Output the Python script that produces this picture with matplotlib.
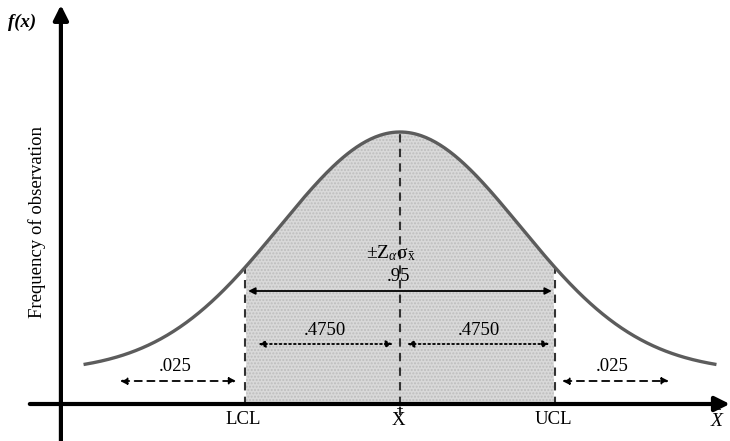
import numpy as np
import matplotlib.pyplot as plt

plt.rcParams['font.family'] = ['Liberation Serif', 'DejaVu Serif']
plt.rcParams['mathtext.fontset'] = 'custom'
plt.rcParams['mathtext.rm'] = 'Liberation Serif'
plt.rcParams['mathtext.it'] = 'Liberation Serif:italic'

# curve shape (x in units where the control limits sit at -z and +z)
z_crit = 1.96
mean = 0.0
spread = 1.52       # width of the bell
base_level = 0.33   # height of the tails above the axis
peak_height = 2.40  # height of the bell above the tails
x_start, x_end = -3.98, 3.98

# labels
limit_labels = ['LCL', r'$\bar{\mathrm{X}}$', 'UCL']
limit_pos = [-z_crit, mean, z_crit]
tail_prob = '.025'
half_prob = '.4750'
total_prob = '.95'

x = np.linspace(x_start, x_end, 400)
y = base_level + peak_height * np.exp(-(x - mean) ** 2 / (2 * spread ** 2))

def f(v):
    return base_level + peak_height * np.exp(-(v - mean) ** 2 / (2 * spread ** 2))

fig = plt.figure(figsize=(7.3, 4.41), dpi=100)
ax = fig.add_axes([0, 0, 1, 1])
ax.set_xlim(-5.057, 4.172)
ax.set_ylim(-0.36, 4.05)
ax.axis('off')

# shaded area between the control limits
mask = (x >= -z_crit) & (x <= z_crit)
ax.fill_between(x[mask], 0, y[mask], facecolor='#d9d9d9', edgecolor='#bdbdbd',
                hatch='.....', linewidth=0, zorder=1)

ax.plot(x, y, color='#5c5c5c', lw=2.4, zorder=3)

# vertical dashed lines at the limits and the mean
for p in limit_pos:
    top = f(p)
    ax.plot([p, p], [0, top], color='#333333', lw=1.5, ls=(0, (4, 3)), zorder=2)
ax.plot([mean, mean], [-0.1, 0], color='#333333', lw=1.5, ls=(0, (4, 3)), zorder=2)

# axes with arrows
ax.annotate('', xy=(4.17, 0.01), xytext=(-4.68, 0.01),
            arrowprops=dict(arrowstyle='-|>', lw=3, color='black', mutation_scale=22,
                            shrinkA=0, shrinkB=0), zorder=5)
ax.annotate('', xy=(-4.287, 4.0), xytext=(-4.287, -0.36),
            arrowprops=dict(arrowstyle='-|>', lw=3, color='black', mutation_scale=22,
                            shrinkA=0, shrinkB=0), zorder=5)

def arrow(x0, x1, yv, ls, lw=1.3):
    ax.annotate('', xy=(x1, yv), xytext=(x0, yv),
                arrowprops=dict(arrowstyle='<|-|>', lw=lw, color='black',
                                linestyle=ls, mutation_scale=10,
                                shrinkA=0, shrinkB=0), zorder=4)

# .95 span
arrow(-z_crit + 0.04, z_crit - 0.04, 1.14, '-')
ax.text(-0.02, 1.20, total_prob, ha='center', va='bottom', fontsize=13.5)
ax.text(-0.12, 1.42, r'$\pm\mathrm{Z}_{\alpha}\mathrm{σ}_{\bar{\mathrm{x}}}$',
        ha='center', va='bottom', fontsize=14)

# .4750 spans
arrow(-z_crit + 0.17, -0.09, 0.61, ':')
arrow(0.09, z_crit - 0.07, 0.61, ':')
ax.text(-0.95, 0.66, half_prob, ha='center', va='bottom', fontsize=13.5)
ax.text(1.0, 0.66, half_prob, ha='center', va='bottom', fontsize=13.5)

# tails
arrow(-3.54, -2.07, 0.24, (0, (4, 3)))
arrow(2.05, 3.40, 0.24, (0, (4, 3)))
ax.text(-2.84, 0.30, tail_prob, ha='center', va='bottom', fontsize=13.5)
ax.text(2.68, 0.30, tail_prob, ha='center', va='bottom', fontsize=13.5)

# limit labels under the axis
for p, lab in zip(limit_pos, limit_labels):
    ax.text(p - 0.02, -0.15, lab, ha='center', va='center', fontsize=13.5)

ax.text(4.02, -0.16, r'$\bar{X}$', ha='center', va='center', fontsize=14)
ax.text(-4.78, 3.83, 'f(x)', ha='center', va='center',
        fontsize=13.5, fontweight='bold', fontstyle='italic')
ax.text(-4.59, 1.83, 'Frequency of observation', rotation=90,
        ha='center', va='center', fontsize=13.5)

plt.savefig('out.png', dpi=100)
